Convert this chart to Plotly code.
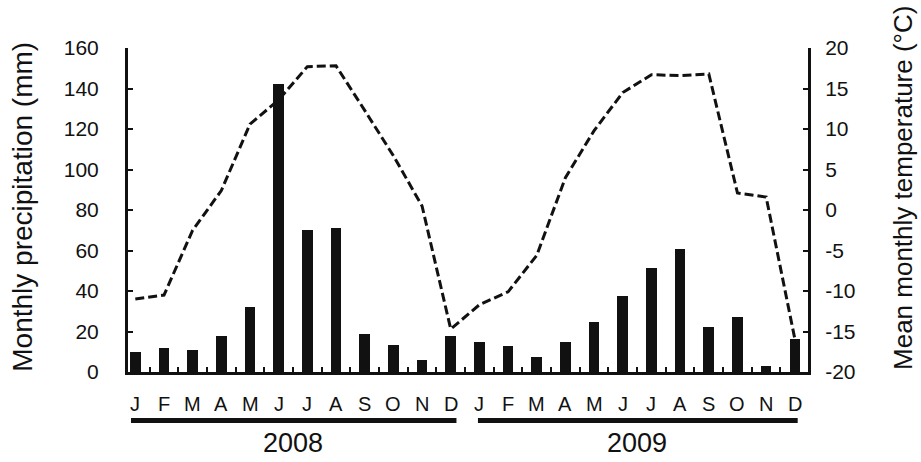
import plotly.graph_objects as go

months = ["J", "F", "M", "A", "M", "J", "J", "A", "S", "O", "N", "D"] * 2
years = ["2008", "2009"]
precip = [10, 12, 11, 18, 32, 142, 70, 71, 19, 13.5, 6, 17.6,
          14.6, 12.8, 7.2, 14.8, 24.5, 37.7, 51.3, 60.7, 22, 27.1, 3, 16.3]
temp = [-11.0, -10.5, -2.5, 2.4, 10.6, 13.6, 17.7, 17.8, 12.3, 6.7, 0.5, -14.7,
        -11.7, -10.1, -5.6, 4.0, 9.8, 14.5, 16.7, 16.6, 16.8, 2.1, 1.6, -15.9]
precip_ticks = [0, 20, 40, 60, 80, 100, 120, 140, 160]
temp_ticks = [-20, -15, -10, -5, 0, 5, 10, 15, 20]
temp_ticktext = ["-20", "-15", "-10", "-5", "0", "5", "10", "15", "20"]

x = list(range(len(precip)))
FONT = "Liberation Sans, Arial, Helvetica, sans-serif"
INK = "#111111"

fig = go.Figure()
fig.add_trace(go.Bar(x=x, y=precip, width=0.37, marker=dict(color=INK, line=dict(width=0)),
                     yaxis="y", showlegend=False))
fig.add_trace(go.Scatter(x=x, y=temp, mode="lines", yaxis="y2", showlegend=False,
                         line=dict(color=INK, width=3, dash="9px,4px")))

fig.update_layout(
    width=921, height=462,
    margin=dict(l=128, r=113, t=48, b=90),
    paper_bgcolor="white", plot_bgcolor="white",
    font=dict(family=FONT, color=INK),
    xaxis=dict(range=[-0.255, 23.46], showgrid=False, zeroline=False,
               showline=True, linecolor=INK, linewidth=3,
               tickvals=[i + 0.5 for i in range(23)], ticktext=[""] * 23,
               ticks="inside", ticklen=5, tickwidth=2, tickcolor=INK),
    yaxis=dict(range=[0, 160], tickvals=precip_ticks, showgrid=False, zeroline=False,
               showline=True, linecolor=INK, linewidth=3,
               ticks="inside", ticklen=5, tickwidth=2, tickcolor=INK,
               tickfont=dict(size=21, family=FONT, color=INK),
               ticklabelstandoff=22),
    yaxis2=dict(range=[-20, 20], tickvals=temp_ticks, ticktext=temp_ticktext,
                overlaying="y", side="right", showgrid=False, zeroline=False,
                showline=True, linecolor=INK, linewidth=3,
                ticks="inside", ticklen=5, tickwidth=2, tickcolor=INK,
                tickfont=dict(size=21, family=FONT, color=INK),
                ticklabelstandoff=10),
    bargap=0,
)

annotations = []
for i, m in enumerate(months):
    annotations.append(dict(x=i, y=-0.099, xref="x", yref="paper", text=m, showarrow=False,
                            xanchor="center", yanchor="middle",
                            font=dict(size=20, family=FONT, color=INK)))
for k, yr in enumerate(years):
    annotations.append(dict(x=5.5 + 12 * k, y=-0.219, xref="x", yref="paper", text=yr,
                            showarrow=False, xanchor="center", yanchor="middle",
                            font=dict(size=27, family=FONT, color=INK)))
annotations.append(dict(x=(23 - 128) / 680, y=0.51, xref="paper", yref="paper",
                        xanchor="center", yanchor="middle",
                        text="Monthly precipitation (mm)", textangle=-90,
                        showarrow=False, font=dict(size=28, family=FONT, color=INK)))
annotations.append(dict(x=(903 - 128) / 680, y=0.568, xref="paper", yref="paper",
                        xanchor="center", yanchor="middle",
                        text="Mean monthly temperature (°C)", textangle=-90,
                        showarrow=False, font=dict(size=26, family=FONT, color=INK)))
fig.update_layout(annotations=annotations)

shapes = []
spans = [(-0.15, 11.2), (11.95, 23.1)]
for x0, x1 in spans:
    shapes.append(dict(type="line", xref="x", yref="paper",
                       x0=x0, x1=x1, y0=-0.1497, y1=-0.1497,
                       line=dict(color=INK, width=5)))
fig.update_layout(shapes=shapes)

fig.write_html("out.html")
